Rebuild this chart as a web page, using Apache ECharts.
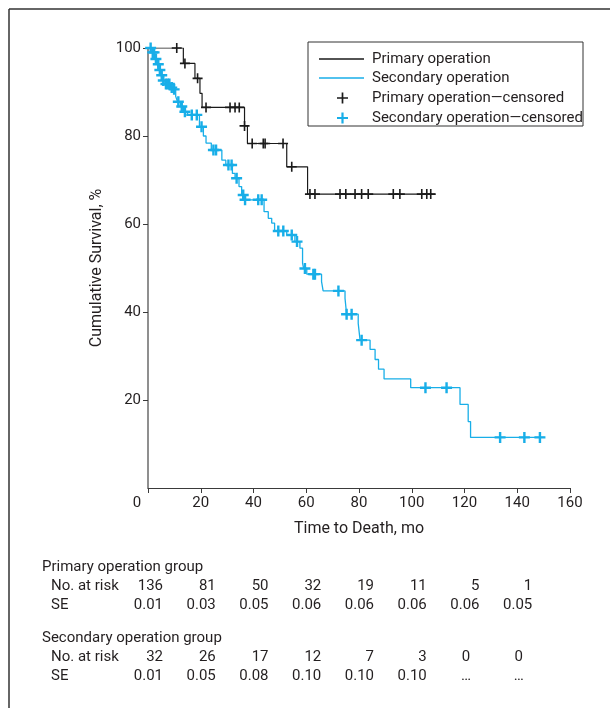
<!DOCTYPE html>
<html><head><meta charset="utf-8">
<script src="https://cdn.jsdelivr.net/npm/echarts@6/dist/echarts.min.js"></script>
<style>html,body{margin:0;padding:0;background:#fff}#c{width:610px;height:708px}</style>
</head><body><div id="c"></div>
<script>
const FONT = "'Liberation Sans Narrow','Arial Narrow','Roboto',sans-serif";
const TXT = '#231f20';
const BLACK = '#1a1a1a';
const BLUE = '#18aee8';

// Kaplan-Meier step points (time of drop, survival after drop)
const primaryTimes = [0, 13.4, 17.8, 19.7, 20.5, 36.6, 37.7, 52.6, 60.5, 108.8];
const primarySurv  = [100, 96.5, 93.1, 89.7, 86.5, 82.3, 78.3, 73.0, 66.8, 66.8];
const primaryCensored = [10.9, 14.0, 18.8, 22.0, 31.1, 33.0, 34.6, 36.6, 39.5, 43.7, 44.4, 51.2, 54.5,
  61.4, 63.3, 72.8, 75.0, 78.5, 81.0, 83.5, 93.0, 95.5, 103.8, 105.7, 107.2];

const secondaryTimes = [0, 1.5, 2.5, 3.5, 4.2, 5.0, 5.6, 6.5, 8.5, 9.5, 10.5, 11.2, 12.3, 13.5, 15.0,
  19.5, 21.0, 22.0, 24.0, 28.0, 29.5, 32.0, 33.0, 34.5, 35.5, 36.5, 44.0, 45.6, 46.9, 48.0, 52.6, 55.7,
  57.6, 58.6, 59.0, 60.2, 65.8, 66.4, 74.7, 75.3, 79.7, 80.4, 84.2, 86.1, 87.4, 89.5, 99.6, 118.3,
  121.4, 122.3, 150.3];
const secondarySurv = [100, 99.0, 97.5, 96.3, 95.0, 93.8, 92.6, 91.8, 91.0, 90.6, 89.0, 87.8, 86.7, 85.5, 84.8,
  82.1, 80.0, 78.4, 76.8, 74.5, 73.4, 71.5, 70.4, 68.5, 66.6, 65.5, 62.8, 61.3, 60.2, 58.4, 57.5, 56.0,
  54.5, 51.1, 49.9, 48.6, 46.9, 44.8, 43.1, 39.5, 37.4, 33.6, 31.5, 29.2, 27.0, 24.8, 22.8, 19.0,
  15.1, 11.5, 11.5];
const secondaryCensored = [1.0, 1.8, 2.3, 3.0, 3.9, 4.5, 5.2, 5.8, 6.8, 7.5, 8.1, 9.0, 9.9, 11.5, 12.8, 14.0,
  16.6, 18.5, 20.3, 24.8, 25.8, 30.5, 31.7, 33.6, 36.1, 36.8, 41.8, 43.1, 49.4, 51.3, 54.5, 56.5, 59.5,
  62.7, 63.3, 72.2, 75.3, 77.2, 81.0, 105.2, 113.2, 133.5, 142.7, 148.6];

// Risk table
const tableTimes = [0, 20, 40, 60, 80, 100, 120, 140];
const primaryRisk = ['136', '81', '50', '32', '19', '11', '5', '1'];
const primarySE   = ['0.01', '0.03', '0.05', '0.06', '0.06', '0.06', '0.06', '0.05'];
const secondaryRisk = ['32', '26', '17', '12', '7', '3', '0', '0'];
const secondarySE   = ['0.01', '0.05', '0.08', '0.10', '0.10', '0.10', '\u2026', '\u2026'];

const xTicks = [0, 20, 40, 60, 80, 100, 120, 140, 160];
const yTicks = [0, 20, 40, 60, 80, 100];

function survAt(times, surv, t) {
  let v = surv[0];
  for (let i = 0; i < times.length; i++) { if (times[i] <= t) v = surv[i]; }
  return v;
}
const pair = (ts, ss) => ts.map((t, i) => [t, ss[i]]);

const PLUS_THIN = 'path://M4.2,0H5.8V4.2H10V5.8H5.8V10H4.2V5.8H0V4.2H4.2Z';
const PLUS_BOLD = 'path://M3.9,0H6.1V3.9H10V6.1H6.1V10H3.9V6.1H0V3.9H3.9Z';

const chart = echarts.init(document.getElementById('c'), null, {renderer: 'canvas'});
chart.setOption({
  animation: false,
  backgroundColor: '#fff',
  textStyle: {fontFamily: FONT, color: TXT},
  grid: {left: 148, top: 48, right: 40, bottom: 220, containLabel: false},
  xAxis: {
    type: 'value', min: xTicks[0], max: xTicks[xTicks.length - 1], interval: 20,
    name: 'Time to Death, mo', nameLocation: 'middle', nameGap: 33,
    nameTextStyle: {fontFamily: FONT, fontSize: 16, color: TXT},
    axisLine: {show: true, lineStyle: {color: '#3a3a3a', width: 1}},
    axisTick: {show: true, length: 5, lineStyle: {color: '#3a3a3a'}},
    axisLabel: {fontFamily: FONT, fontSize: 15, color: TXT, margin: 8,
      formatter: v => v === 0 ? '{z|0}' : String(v),
      rich: {z: {fontFamily: FONT, fontSize: 15, color: TXT, padding: [0, 22, 0, 0]}}},
    splitLine: {show: false}
  },
  yAxis: {
    type: 'value', min: yTicks[0], max: yTicks[yTicks.length - 1], interval: 20,
    name: 'Cumulative Survival, %', nameLocation: 'middle', nameGap: 41,
    nameTextStyle: {fontFamily: FONT, fontSize: 16, color: TXT},
    axisLine: {show: true, lineStyle: {color: '#6a6a6a', width: 1.5}},
    axisTick: {show: true, length: 5, lineStyle: {color: '#3a3a3a'}},
    axisLabel: {fontFamily: FONT, fontSize: 15, color: TXT, margin: 7, showMinLabel: false},
    splitLine: {show: false}
  },
  series: [
    {name: 'Secondary operation', type: 'line', step: 'end', showSymbol: false, z: 2,
     data: pair(secondaryTimes, secondarySurv), lineStyle: {color: BLUE, width: 1.3}, itemStyle: {color: BLUE}},
    {name: 'Primary operation', type: 'line', step: 'end', showSymbol: false, z: 3,
     data: pair(primaryTimes, primarySurv), lineStyle: {color: BLACK, width: 1.2}, itemStyle: {color: BLACK}},
    {name: 'Secondary operation\u2014censored', type: 'scatter', symbol: PLUS_BOLD, symbolSize: 11, z: 4,
     data: secondaryCensored.map(t => [t, survAt(secondaryTimes, secondarySurv, t)]),
     itemStyle: {color: BLUE, opacity: 1}},
    {name: 'Primary operation\u2014censored', type: 'scatter', symbol: PLUS_THIN, symbolSize: 10, z: 5,
     data: primaryCensored.map(t => [t, survAt(primaryTimes, primarySurv, t)]),
     itemStyle: {color: BLACK, opacity: 1}}
  ]
});

// Graphics: frame, legend, risk table
const g = [];
g.push({type: 'line', shape: {x1: 9, y1: 9, x2: 610, y2: 9}, style: {stroke: '#333', lineWidth: 1.5}, silent: true});
g.push({type: 'line', shape: {x1: 9, y1: 9, x2: 9, y2: 708}, style: {stroke: '#333', lineWidth: 1.5}, silent: true});

// legend
g.push({type: 'rect', shape: {x: 308, y: 42, width: 275, height: 84}, style: {fill: '#fff', stroke: '#333', lineWidth: 1}, z: 10});
const legRows = [
  {label: 'Primary operation', kind: 'line', color: BLACK, y: 59},
  {label: 'Secondary operation', kind: 'line', color: BLUE, y: 78},
  {label: 'Primary operation\u2014censored', kind: 'plus', color: BLACK, y: 98, t: 1.7},
  {label: 'Secondary operation\u2014censored', kind: 'plus', color: BLUE, y: 118, t: 2.2}
];
function plusPoints(cx, cy, s, t) {
  const h = s / 2, a = t / 2;
  return [[cx - a, cy - h], [cx + a, cy - h], [cx + a, cy - a], [cx + h, cy - a], [cx + h, cy + a], [cx + a, cy + a],
    [cx + a, cy + h], [cx - a, cy + h], [cx - a, cy + a], [cx - h, cy + a], [cx - h, cy - a], [cx - a, cy - a]];
}
legRows.forEach(r => {
  if (r.kind === 'line') {
    g.push({type: 'line', shape: {x1: 319, y1: r.y, x2: 364, y2: r.y}, style: {stroke: r.color, lineWidth: 1.3}, z: 11});
  } else {
    g.push({type: 'polygon', shape: {points: plusPoints(342.5, r.y, 11, r.t)}, style: {fill: r.color}, z: 11});
  }
  g.push({type: 'text', x: 372, y: r.y, style: {text: r.label, fill: TXT, font: '15px ' + FONT, verticalAlign: 'middle', align: 'left'}, z: 11});
});

// risk table
const colX = tableTimes.map(t => chart.convertToPixel({xAxisIndex: 0}, t));
function addText(text, x, y, align) {
  g.push({type: 'text', x: x, y: y, style: {text: text, fill: TXT, font: '15px ' + FONT, verticalAlign: 'middle', align: align}});
}
addText('Primary operation group', 42, 567, 'left');
addText('No. at risk', 51, 586, 'left');
addText('SE', 51, 605, 'left');
addText('Secondary operation group', 42, 638, 'left');
addText('No. at risk', 51, 657, 'left');
addText('SE', 51, 676, 'left');
function addRow(vals, y) {
  vals.forEach((v, i) => {
    if (v === '0' || v === '\u2026') addText(v, colX[i] + 1.5, y, 'center');
    else addText(v, colX[i] + 15, y, 'right');
  });
}
addRow(primaryRisk, 586);
addRow(primarySE, 605);
addRow(secondaryRisk, 657);
addRow(secondarySE, 676);

chart.setOption({graphic: {elements: g}});
</script>
</body></html>
